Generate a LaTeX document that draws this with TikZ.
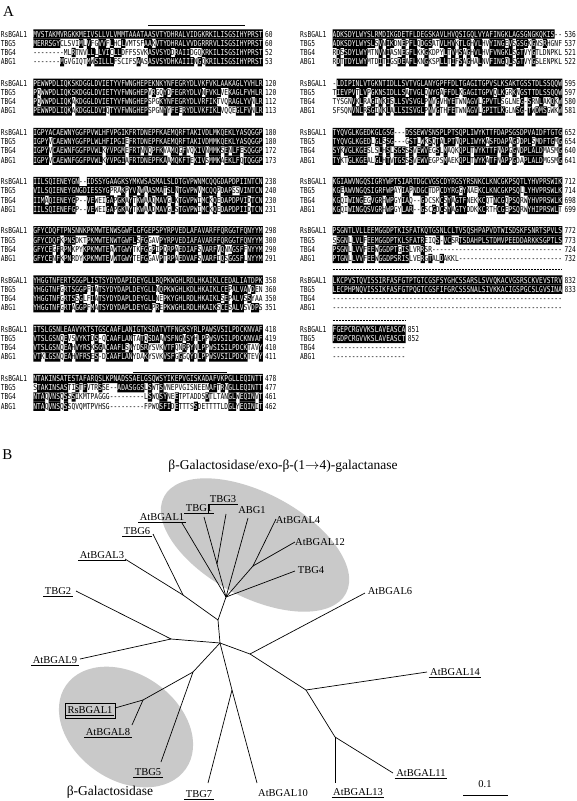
\documentclass[tikz,border=0pt]{standalone}
\usepackage{fontspec}
\setmainfont{Liberation Serif}
\newfontfamily\seqfont{DejaVu Sans Mono}[FakeStretch=0.76]
\definecolor{ellgray}{RGB}{201,201,201}
\tikzset{
  seqrow/.style={anchor=base west, inner sep=0pt, outer sep=0pt, font=\seqfont\fontsize{8.2}{9}\selectfont},
  panellbl/.style={font=\fontsize{15}{17}\selectfont, inner sep=0pt},
  lab/.style={font=\fontsize{10.5}{12}\selectfont, inner sep=1.5pt, text height=7pt, text depth=0pt},
  ulline/.style={line width=1pt},
  branch/.style={line width=0.7pt},
  overl/.style={line width=1pt},
  overd/.style={line width=1pt, dash pattern=on 2pt off 1pt},
  titletext/.style={font=\fontsize{13.5}{15}\selectfont, inner sep=0pt},
}
\ExplSyntaxOn
\dim_new:N \l_aln_w_dim
\dim_set:Nn \l_aln_w_dim {3.823pt}
\dim_new:N \l_aln_x_dim
\dim_new:N \l_aln_nx_dim
\dim_new:N \l_aln_numx_dim
\dim_new:N \l_aln_y_dim
\dim_new:N \l_aln_by_dim
\dim_new:N \l_aln_cx_dim
\dim_new:N \l_aln_rw_dim
\str_new:N \l_aln_row_str
\str_new:N \l_aln_c_str
\str_new:N \l_aln_r_str
\str_new:N \l_aln_sa_str
\str_new:N \l_aln_sb_str
\str_new:N \l_aln_sc_str
\str_new:N \l_aln_sd_str
\tl_new:N \g_aln_text_tl
\bool_new:N \l_aln_shade_bool
\int_new:N \l_aln_nres_int
\int_new:N \l_aln_row_int
\clist_new:N \l_aln_nums_clist
\int_new:N \g_aln_count_int
\cs_new:Npn \aln_class:n #1
 {
  \str_case:nnF {#1}
   {
    {I}{L} {L}{L} {V}{L} {M}{L}
    {F}{F} {Y}{F} {W}{F}
    {K}{K} {R}{K}
    {D}{D} {E}{D}
    {S}{S} {T}{S}
   }
   {#1}
 }
\cs_new:Npn \aln_nongap:n #1
 { \str_if_eq:eeTF {#1} {-} {0} { \str_if_eq:eeTF {#1} {} {0} {1} } }
\cs_generate_variant:Nn \aln_class:n { V }
\cs_generate_variant:Nn \aln_nongap:n { V }
\cs_new_protected:Npn \aln_wc:n #1
 { \hbox_to_wd:nn { \l_aln_w_dim } { \hss \color{white} #1 \hss } }
\cs_new_protected:Npn \aln_bc:n #1
 { \hbox_to_wd:nn { \l_aln_w_dim } { \hss #1 \hss } }
\cs_new_protected:Npn \aln_cell:n #1
 {
  \str_set:Nx \l_aln_c_str { \str_item:Nn \l_aln_row_str {#1} }
  \str_set:Nx \l_aln_r_str { \str_item:Nn \l_aln_sa_str {#1} }
  \int_set:Nn \l_aln_nres_int
   {
    \aln_nongap:n { \str_item:Nn \l_aln_sa_str {#1} }
    + \aln_nongap:n { \str_item:Nn \l_aln_sb_str {#1} }
    + \aln_nongap:n { \str_item:Nn \l_aln_sc_str {#1} }
    + \aln_nongap:n { \str_item:Nn \l_aln_sd_str {#1} }
   }
  \bool_set_false:N \l_aln_shade_bool
  \int_compare:nNnT { \aln_nongap:V \l_aln_c_str } = { 1 }
   {
    \int_compare:nNnTF { \l_aln_row_int } = { 1 }
     { \bool_set_true:N \l_aln_shade_bool }
     {
      \int_compare:nNnTF { \l_aln_nres_int } < { 3 }
       { \bool_set_true:N \l_aln_shade_bool }
       {
        \str_if_eq:eeT { \aln_class:V \l_aln_c_str } { \aln_class:V \l_aln_r_str }
         { \bool_set_true:N \l_aln_shade_bool }
       }
     }
   }
  \bool_if:NTF \l_aln_shade_bool
   {
    \dim_set:Nn \l_aln_cx_dim { \l_aln_x_dim + \int_eval:n { #1 - 1 } \l_aln_w_dim }
    \pgfpathrectangle { \pgfqpoint { \l_aln_cx_dim } { \l_aln_by_dim } }
      { \pgfqpoint { \l_aln_rw_dim } { 9.3pt } }
    \tl_gput_right:Nx \g_aln_text_tl { \exp_not:N \aln_wc:n { \l_aln_c_str } }
   }
   {
    \tl_gput_right:Nx \g_aln_text_tl { \exp_not:N \aln_bc:n { \l_aln_c_str } }
   }
 }
\NewDocumentCommand \AlnBlock { m m m m m m m }
 {
  \str_set:Nn \l_aln_sa_str {#3}
  \str_set:Nn \l_aln_sb_str {#4}
  \str_set:Nn \l_aln_sc_str {#5}
  \str_set:Nn \l_aln_sd_str {#6}
  \clist_set:Nn \l_aln_nums_clist {#7}
  \dim_set:Nn \l_aln_nx_dim { #1 pt }
  \dim_set:Nn \l_aln_x_dim { #1 pt + 32.5 pt }
  \dim_set:Nn \l_aln_rw_dim { \l_aln_w_dim + 0.3pt }
  \int_step_inline:nn {4}
   {
    \int_set:Nn \l_aln_row_int {##1}
    \int_case:nn {##1}
     {
      {1}{ \str_set_eq:NN \l_aln_row_str \l_aln_sa_str }
      {2}{ \str_set_eq:NN \l_aln_row_str \l_aln_sb_str }
      {3}{ \str_set_eq:NN \l_aln_row_str \l_aln_sc_str }
      {4}{ \str_set_eq:NN \l_aln_row_str \l_aln_sd_str }
     }
    \dim_set:Nn \l_aln_numx_dim
      { \l_aln_x_dim + \str_count:N \l_aln_row_str \l_aln_w_dim + 2.5pt }
    \dim_set:Nn \l_aln_y_dim { \fp_to_dim:n { - (#2) - 9.25 * (##1 - 1) } }
    \dim_set:Nn \l_aln_by_dim { \l_aln_y_dim - 1.65pt }
    \tl_gclear:N \g_aln_text_tl
    \begin{pgfscope}
    \pgfsetfillcolor{black}
    \int_step_inline:nn { \str_count:N \l_aln_row_str }
     { \aln_cell:n {####1} }
    \pgfusepath{fill}
    \end{pgfscope}
    \int_gincr:N \g_aln_count_int
    \use:x
     {
      \exp_not:N \node [seqrow] ~ (alnS\int_use:N \g_aln_count_int) ~ at ~
        (\dim_use:N \l_aln_x_dim , \dim_use:N \l_aln_y_dim) ~
        { \exp_not:V \g_aln_text_tl } ;
      \exp_not:N \node [seqrow] ~ (alnN\int_use:N \g_aln_count_int) ~ at ~
        (\dim_use:N \l_aln_nx_dim , \dim_use:N \l_aln_y_dim) ~
        { \clist_item:nn {RsBGAL1,TBG5,TBG4,ABG1} {##1} } ;
     }
    \int_compare:nNnT {##1} < { \clist_count:N \l_aln_nums_clist + 1 }
     {
      \use:x
       {
        \exp_not:N \node [seqrow] ~ (alnC\int_use:N \g_aln_count_int) ~ at ~
          (\dim_use:N \l_aln_numx_dim , \dim_use:N \l_aln_y_dim) ~
          { \clist_item:Nn \l_aln_nums_clist {##1} } ;
       }
     }
   }
 }
\ExplSyntaxOff
\begin{document}
\begin{tikzpicture}[x=1pt,y=-1pt]
\useasboundingbox (0,0) rectangle (576,801);
\fill[white] (0,0) rectangle (576,801);
\node[panellbl] (labA) at (8.5,12) {A};
% ---------------- left column
\AlnBlock{0.8}{37}
{MVSTAKMVRGKKMEIVSLLVLVMMTAAATAASVTYDHRALVIDGKRKILISGSIHYPRST}
{MERRSGYCLSVIMLVFGVVFLHCLVMTSFAAKVTYDHRALVVDGRRRVLISGSIHYPRST}
{--------MLRTNVLLLLVICLLDFFSSVKASVSYDDRAIIDGQKRKILISGSIHYPRST}
{-------MGVGIQTMWSILLLFSCIFSAASASVSYDHKAIIINGQKRILISGSIHYPRST}
{60,60,52,53}
\AlnBlock{0.8}{86.2}
{PEWWPDLIQKSKDGGLDVIETYVFWNGHEPEKNKYNFEGRYDLVKFVKLAAKAGLYVHLR}
{PQWWPDLIQKSKDGGLDVIETYVFWNGHEPVRGQYDFEGRYDLVNFVKLVEKAGLFVHLR}
{PQWWPDLIQKAKDGGLDVIETYVFWNGHEPSPGKYNFEGRYDLVRFIKTVQRAGLYVNLR}
{PEWWPDLIQKAKDGGLDVIQTYVFWNGHEPSPGNYYFEERYDLVKFIKLVQQEGLFVNLR}
{120,120,112,113}
\AlnBlock{0.8}{135.4}
{IGPYACAEWNYGGFPVWLHFVPGIKFRTDNEPFKAEMQRFTAKIVDLMKQEKLYASQGGP}
{IGPYVCAEWNYGGFPLWLHFIPGIEFRTDNEPFKAEMQRFTAKIVDMMKQEKLYASQGGP}
{IGPYVCAEWNFGGFPVWLKYVPGMEFRTNNQPFKVAMQGFVQKIVNMMKSENLFESQGGP}
{IGPYVCAEWNFGGFPVWLKYVPGIAFRTDNEPFKAAMQKFTEKIVSMMKAEKLFQTQGGP}
{180,180,172,173}
\AlnBlock{0.8}{184.6}
{IILSQIENEYGN--IDSSYGAAGKSYMKWSASMALSLDTGVPWNMCQQGDAPDPIINTCN}
{VILSQIENEYGNGDIESSYGPRAKPYVNWAASMATSLNTGVPWVMCQQPDAPSSVINTCN}
{IIMAQIENEYGP--VEWEIGAPGKAYTKWAAQMAVGLKTGVPWIMCKQEDAPDPVIDTCN}
{IILSQIENEFGP--VEWEIGAPGKAYTKWAADMAVGLSTGVPWIMCKQEDAPDPIIDTCN}
{238,240,230,231}
\AlnBlock{0.8}{233.8}
{GFYCDQFTPNSNNKPKMWTENWSGWFLGFGEPSPYRPVEDLAFAVARFFQRGGTFQNYYM}
{GFYCDQFKPNSDKTPKMWTENWTGWFLSFGGAVPYRPVEDIAFAVARFFQRGGTFQNYYM}
{GFYCEGFRPNKPYKPKMWTEAWTGWYTKFGGPIPQRPAEDIAFSVARFVQNNGSFFNYYM}
{GFYCENFKPNRDYKPKMWTEVWTGWYTEFGGAVPTRPAEDVAFSVARFIQSGGSFLNYYM}
{298,300,290,291}
\AlnBlock{0.8}{283}
{YHGGTNFERTSGGPLISTSYDYDAPIDEYGLLRQPKWGHLRDLHKAIKLCEDALIATDPK}
{YHGGTNFGRTSGGPFIATSYDYDAPLDEYGLLNQPKWGHLKDLHKAIKLCEPALVAVDEN}
{YHGGTNFGRTSSGLFIATSYDYDAPLDEYGLLNEPKYGHLRDLHKAIKLSEPALVSSYAA}
{YHGGTNFGRTAGGPFMATSYDYDAPLDEYGLPREPKWGHLRDLHKAIKSCESALVSVDPS}
{358,360,350,351}
\AlnBlock{0.8}{332.2}
{ITSLGSNLEAAVYKTSTGSCAAFLANIGTKSDATVTFNGKSYRLPAWSVSILPDCKNVAF}
{VTSLGSNQEVSVYKTDS-QCAAFLANTATQSDAAVSFNGNSYHLPPWSVSILPDCKNVAF}
{VTSLGSNQEAHVYRSKSGACAAFLSNYDSRYSVKVTFQNRPYNLPPWSISILPDCKTAVY}
{VTKLGSNQEAHVFRSES-DCAAFLANYDAKYSVKVSFGGGQYDLPPWSVSILPDCKTEVY}
{418,419,410,411}
\AlnBlock{0.8}{381.4}
{NTAKINSATESTAFARQSLKPNADSSAELGSQWSYIKEPVGISKADAFVKPGLLEQINTT}
{STAKINSASTISTFVTRSSE--ADASGGSLSWTSVNEPVGISNEENAFTRNGLLEQINTT}
{NTAQVNSQSSSIKMTPAGGG---------LSWQSYNEETPTADDSDTLTANGLWEQINVT}
{NTAQVNSQSSQVQMTPVHSG---------FPWQSFIDETTTSSDETTTTLDGLYEQINIT}
{478,477,461,462}
% ---------------- right column
\AlnBlock{300.2}{37}
{ADKSDYLWYSLRMDIKGDETFLDEGSKAVLHVQSIGQLVYAFINGKLAGSGNGKQKIS--}
{ADKSDYLWYSLSVNIKDNEPFLQDGSATVLHVKTLGHVLHVYINGEVSGSGKGNSRHGNF}
{RDSSDYLWYMTNVNIASNEGFLKKGKDPYLTVMSAGHVLHVFVNGKLSGTVYGTLDNPKL}
{RDTTDYLWYMTDITIGSDEAFLKNGKSPLLTIFSAGHALNVFINGQLSGTVYGSLENPKL}
{536,537,521,522}
\AlnBlock{300.2}{86.2}
{-LDIPINLVTGKNTIDLLSVTVGLANYGPFFDLTGAGITGPVSLKSAKTGSSTDLSSQQW}
{TIEVPVTLVPGKNSIDLLSATVGLQNYGAFFDLKGAGITGPVQLKGRKNGSTTDLSSQQW}
{TYSGNVKLRAGINKISLLSVSVGLPNVGVHYETWNAGVLGPVTLSGLNEG-SRNLAKQKW}
{SFSQNVNLRSGINKLALLSISVGLPNVGTHFETWNAGVLGPITLKGLNSG-TWDMSGWKW}
{595,597,580,581}
\AlnBlock{300.2}{135.4}
{TYQVGLKGEDKGLGSG---DSSEWVSNSPLPTSQPLIWYKTTFDAPSGSDPVAIDFTGTG}
{TYQVGLKGEDLGLSSG---GSTLWKSQTALPTNQPLIWYKASFDAPAGDDPLSMDFTGMG}
{SYKVGLKGESLSLHSLSGSSSVEWVEGSLMAQKQPLTWYKTTFNAPGGNDPLALDMASMG}
{TYKTGLKGEALGLHTVTGSSSVEWVEGPSMAEKQPLTWYKATFNAPPGDAPLALDMGSMG}
{652,654,640,641}
\AlnBlock{300.2}{184.6}
{KGIAWVNGQSIGRYWPTSIARTDGCVGSCDYRGSYRSNKCLKNCGKPSQTLYHVPRSWIK}
{KGEAWVNGQSIGRFWPAYIAPNDGCTDPCDYRGGYNAEKCLKNCGKPSQLLYHVPRSWLK}
{KGQIWINGEGVGRHWPGYIAQ--GDCSKCSYAGTFNEKKCQTNCGQPSQRWYHVPRSWLK}
{KGQIWINGQSVGRHWPGYLAR--GSCGDCSYAGTYDDKKCRTHCGEPSQRWYHIPRSWLT}
{712,714,698,699}
\AlnBlock{300.2}{233.8}
{PSGNTLVLLEEMGGDPTKISFATKQTGSNLCLTVSQSHPAPVDTWISDSKFSNRTSPVLS}
{SSGNLLVLFEEMGGDPTKLSFATREIQS-VCSRTSDAHPLSTDMVPEEDDARKKSGPTLS}
{PSGNLLVVFEEWGGDPTGISLVRRSR----------------------------------}
{PTGNLLVVFEEWGGDPSRISLVERGTALDAKKL---------------------------}
{772,773,724,732}
\AlnBlock{300.2}{283}
{LKCPVSTQVISSIRFASFGTPTGTCGSFSYGHCSSARSLSVVQKACVGSRSCKVEVSTRV}
{LECPHPNQVISSIKFASFGTPQGTCGSFIFGRCSSSNALSIVKKACIGSPGCSLGVSINA}
{------------------------------------------------------------}
{------------------------------------------------------------}
{832,833}
\AlnBlock{300.2}{332.2}
{FGEPCRGVVKSLAVEASCA}
{FGDPCRGVVKSLAVEASCT}
{-------------------}
{-------------------}
{851,852}
% overlines
\coordinate (ol1a) at (148,25.5); \coordinate (ol1b) at (245,25.5);
\coordinate (ol2a) at (133,372);  \coordinate (ol2b) at (227,372);
\coordinate (od1a) at (332.7,269); \coordinate (od1b) at (562,269);
\coordinate (od2a) at (332.7,320); \coordinate (od2b) at (405,320);
\draw[overl] (ol1a) -- (ol1b);
\draw[overl] (ol2a) -- (ol2b);
\draw[overd] (od1a) -- (od1b);
\draw[overd] (od2a) -- (od2b);
% ---------------- panel B
\node[panellbl] (labB) at (7.3,455) {B};
\node[titletext] (titleA) at (283,466) {β-Galactosidase/exo-β-(1$\rightarrow$4)-galactanase};
\fill[ellgray, rotate around={-28:(255,545)}] (255,545) ellipse [x radius=103pt, y radius=52pt];
\fill[ellgray, rotate around={-35:(126,727)}] (126,727) ellipse [x radius=73pt, y radius=53pt];
\node[titletext] (titleB) at (110,792) {β-Galactosidase};
% tree coordinates
\coordinate (r) at (220,643);
\coordinate (n2) at (218,620);
\coordinate (nt) at (226,597);
\coordinate (n3) at (183,595);
\coordinate (nt1) at (217,564);
\coordinate (n412) at (253,566);
\coordinate (eAt1) at (182,523);
\coordinate (eABG1) at (248,518);
\coordinate (eTBG4) at (295,571);
\coordinate (eTBG1) at (204,517);
\coordinate (eTBG3) at (226,514);
\coordinate (eAt4) at (276,519);
\coordinate (eAt12) at (295,542);
\coordinate (eTBG6) at (153,534);
\coordinate (eAt3) at (125,559);
\coordinate (n4) at (171,639);
\coordinate (eTBG2) at (76,591);
\coordinate (eAt9) at (80,659);
\coordinate (n5) at (193,672);
\coordinate (n8) at (143,700);
\coordinate (eTBG5) at (161,762);
\coordinate (eRs) at (115,708);
\coordinate (eAt8) at (132,725);
\coordinate (n6) at (232,690);
\coordinate (eTBG7) at (208,783);
\coordinate (eAt10) at (257,783);
\coordinate (n7) at (250,654);
\coordinate (eAt6) at (365,593);
\coordinate (n9) at (306,690);
\coordinate (eAt14) at (427,672);
\coordinate (n10) at (335,737);
\coordinate (eAt13) at (335,783);
\coordinate (eAt11) at (393,773);
\draw[branch] (r) -- (n2);
\draw[branch] (n2) -- (nt);
\draw[branch] (n2) -- (n3);
\draw[branch] (nt) -- (nt1);
\draw[branch] (nt) -- (n412);
\draw[branch] (nt) -- (eAt1);
\draw[branch] (nt) -- (eABG1);
\draw[branch] (nt) -- (eTBG4);
\draw[branch] (nt1) -- (eTBG1);
\draw[branch] (nt1) -- (eTBG3);
\draw[branch] (n412) -- (eAt4);
\draw[branch] (n412) -- (eAt12);
\draw[branch] (n3) -- (eTBG6);
\draw[branch] (n3) -- (eAt3);
\draw[branch] (r) -- (n4);
\draw[branch] (n4) -- (eTBG2);
\draw[branch] (n4) -- (eAt9);
\draw[branch] (r) -- (n5);
\draw[branch] (n5) -- (n8);
\draw[branch] (n5) -- (eTBG5);
\draw[branch] (n8) -- (eRs);
\draw[branch] (n8) -- (eAt8);
\draw[branch] (r) -- (n6);
\draw[branch] (n6) -- (eTBG7);
\draw[branch] (n6) -- (eAt10);
\draw[branch] (r) -- (n7);
\draw[branch] (n7) -- (eAt6);
\draw[branch] (n7) -- (n9);
\draw[branch] (n9) -- (eAt14);
\draw[branch] (n9) -- (n10);
\draw[branch] (n10) -- (eAt13);
\draw[branch] (n10) -- (eAt11);
% labels
\node[lab] (tbg3) at (223,499) {TBG3};
\node[lab] (tbg1) at (199,508) {TBG1};
\node[lab] (abg1) at (252,510) {ABG1};
\node[lab] (at1) at (162,517) {AtBGAL1};
\node[lab] (at4) at (298,520) {AtBGAL4};
\node[lab] (tbg6) at (137,531) {TBG6};
\node[lab] (at12) at (320,542) {AtBGAL12};
\node[lab] (at3) at (102,555) {AtBGAL3};
\node[lab] (tbg4) at (311,570) {TBG4};
\node[lab] (tbg2) at (58,591) {TBG2};
\node[lab] (at6) at (390,591) {AtBGAL6};
\node[lab] (at9) at (55,660) {AtBGAL9};
\node[lab] (at14) at (455,672) {AtBGAL14};
\node[lab] (rs) at (90,710) {RsBGAL1};
\node[lab] (at8) at (108,732) {AtBGAL8};
\node[lab] (tbg5) at (148,772) {TBG5};
\node[lab] (at11) at (421,773) {AtBGAL11};
\node[lab] (tbg7) at (199,794) {TBG7};
\node[lab] (at10) at (283,793) {AtBGAL10};
\node[lab] (at13) at (358,792) {AtBGAL13};
\foreach \n in {tbg3,tbg1,at1,tbg6,at3,tbg2,at9,at14,rs,at8,tbg5,at11,tbg7,at13}
  \draw[ulline] (\n.south west) -- (\n.south east);
\draw[ulline] (tbg3.south west) -- (tbg3.south west |- tbg1.south);
\draw[line width=0.6pt] ([shift={(-1,-2)}]rs.north west) rectangle ([shift={(1,3)}]rs.south east);
% scale bar
\coordinate (sb1) at (463,795); \coordinate (sb2) at (508,795);
\draw[line width=0.8pt] (sb1) -- (sb2);
\node[lab] (sbl) at (485,784) {0.1};
\end{tikzpicture}
\end{document}
